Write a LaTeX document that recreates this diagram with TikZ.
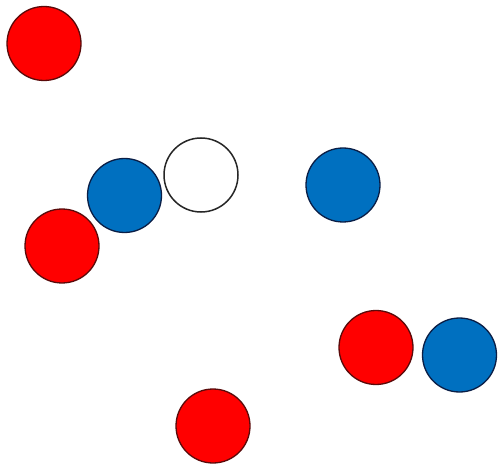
\documentclass[tikz,border=0pt]{standalone}
\definecolor{ballred}{HTML}{FF0000}
\definecolor{ballblue}{HTML}{0070C0}
\definecolor{rimred}{HTML}{5A0A0A}
\definecolor{rimblue}{HTML}{0A1E46}
\begin{document}
\begin{tikzpicture}[x=1pt,y=-1pt,
  ball/.style={circle,minimum size=74pt,inner sep=0pt,line width=1.3pt},
  redball/.style={ball,fill=ballred,draw=rimred},
  blueball/.style={ball,fill=ballblue,draw=rimblue},
  whiteball/.style={ball,fill=white,draw=black!85,line width=1.5pt}]
\useasboundingbox[fill=white] (0,0) rectangle (498,465);
\node[redball] (r1) at (44,43.5) {};
\node[blueball] (b1) at (124.5,195.5) {};
\node[whiteball] (w1) at (201,175) {};
\node[blueball] (b2) at (343,185) {};
\node[redball] (r2) at (62,246) {};
\node[redball] (r3) at (376,347.5) {};
\node[blueball] (b3) at (459.5,355) {};
\node[redball] (r4) at (213,426) {};
\end{tikzpicture}
\end{document}
